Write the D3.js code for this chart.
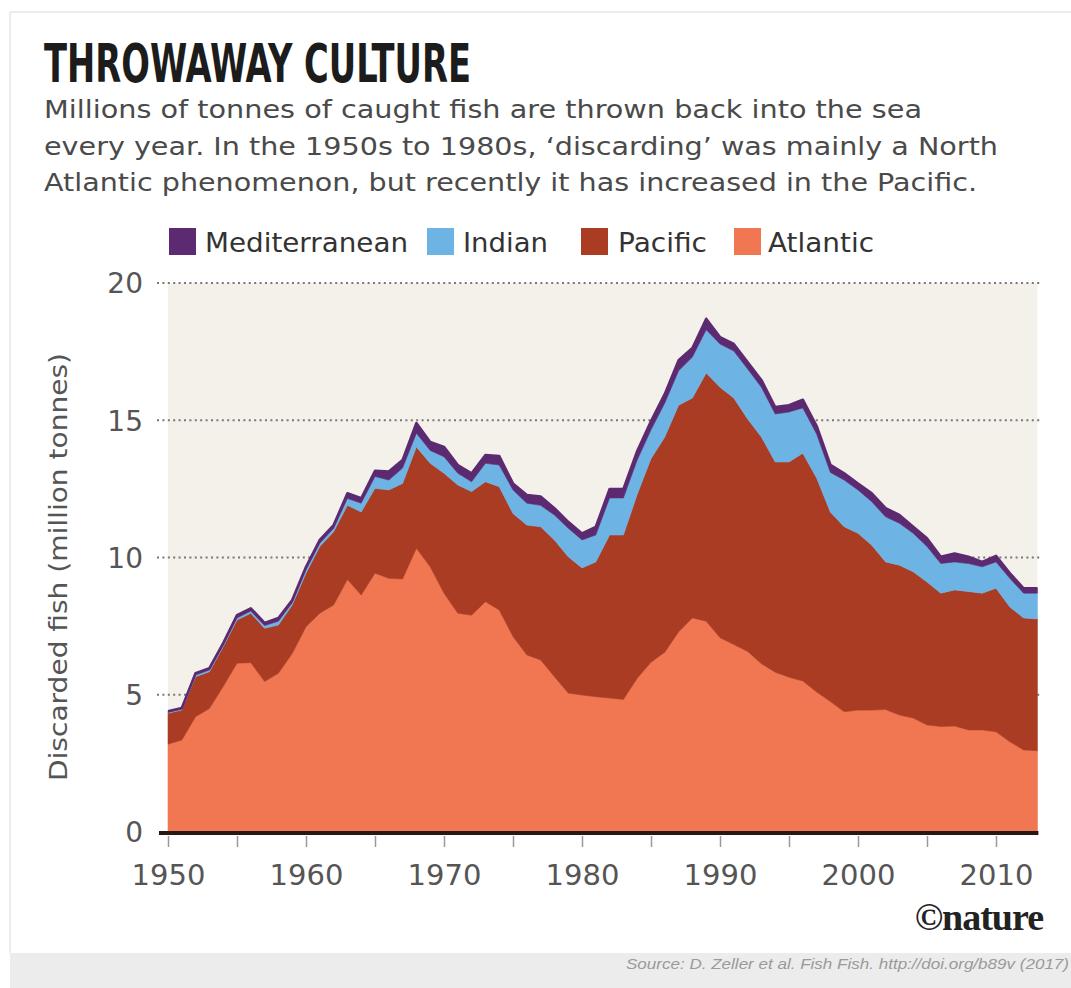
<!DOCTYPE html>
<html>
<head>
<meta charset="utf-8">
<script src="https://cdn.jsdelivr.net/npm/d3@7"></script>
<style>
  html, body { margin: 0; padding: 0; background: #ffffff; }
  svg { display: block; }
</style>
</head>
<body>
<svg id="chart" width="1071" height="988"></svg>
<script>
// ---------------- DATA ----------------
const years = [1950,1951,1952,1953,1954,1955,1956,1957,1958,1959,
  1960,1961,1962,1963,1964,1965,1966,1967,1968,1969,
  1970,1971,1972,1973,1974,1975,1976,1977,1978,1979,
  1980,1981,1982,1983,1984,1985,1986,1987,1988,1989,
  1990,1991,1992,1993,1994,1995,1996,1997,1998,1999,
  2000,2001,2002,2003,2004,2005,2006,2007,2008,2009,
  2010,2011,2012,2013];

const atlantic = [3.20,3.35,4.20,4.50,5.30,6.15,6.17,5.48,5.78,6.50,
  7.48,7.97,8.27,9.20,8.63,9.43,9.24,9.22,10.34,9.66,
  8.70,7.97,7.90,8.39,8.09,7.12,6.45,6.27,5.66,5.06,
  4.99,4.93,4.88,4.83,5.60,6.18,6.55,7.29,7.80,7.68,
  7.08,6.83,6.58,6.13,5.82,5.64,5.50,5.10,4.75,4.38,
  4.44,4.44,4.46,4.26,4.15,3.90,3.84,3.86,3.72,3.72,
  3.65,3.29,2.99,2.96];

const pacific = [1.13,1.09,1.46,1.34,1.45,1.57,1.80,1.94,1.76,1.77,
  1.95,2.43,2.67,2.70,3.03,3.09,3.22,3.48,3.69,3.77,
  4.37,4.67,4.50,4.37,4.49,4.48,4.73,4.85,4.98,4.97,
  4.63,4.91,5.94,5.99,6.70,7.42,7.84,8.26,8.01,9.04,
  9.12,8.98,8.47,8.26,7.66,7.84,8.30,7.80,6.90,6.74,
  6.44,6.01,5.38,5.46,5.33,5.21,4.86,4.96,5.04,4.98,
  5.23,4.91,4.81,4.80];

const indian = [0.03,0.04,0.06,0.06,0.05,0.08,0.08,0.10,0.14,0.08,
  0.12,0.12,0.12,0.25,0.32,0.43,0.36,0.56,0.50,0.47,
  0.60,0.43,0.36,0.67,0.79,0.86,0.80,0.78,0.91,1.04,
  1.02,0.98,1.35,1.35,1.25,1.05,1.24,1.25,1.49,1.58,
  1.58,1.71,1.82,1.81,1.75,1.82,1.65,1.60,1.45,1.70,
  1.58,1.58,1.64,1.53,1.40,1.29,1.08,1.02,1.02,0.96,
  0.96,1.04,0.90,0.94];

const mediterranean = [0.04,0.04,0.07,0.07,0.08,0.10,0.10,0.10,0.12,0.10,
  0.11,0.12,0.12,0.19,0.18,0.21,0.31,0.29,0.37,0.31,
  0.36,0.30,0.31,0.30,0.33,0.24,0.30,0.32,0.25,0.23,
  0.24,0.30,0.33,0.33,0.33,0.32,0.33,0.39,0.33,0.40,
  0.25,0.26,0.25,0.27,0.25,0.25,0.30,0.30,0.28,0.25,
  0.24,0.31,0.32,0.30,0.24,0.30,0.25,0.31,0.25,0.18,
  0.22,0.19,0.18,0.18];

const seriesNames = ["Atlantic","Pacific","Indian","Mediterranean"];
const seriesColors = ["#f07751","#a93c22","#6db4e4","#5c2a70"];
const legendOrder = ["Mediterranean","Indian","Pacific","Atlantic"];
const yTicks = [0,5,10,15,20];
const xTicks = [1950,1955,1960,1965,1970,1975,1980,1985,1990,1995,2000,2005,2010];
const xTickLabels = [1950,1960,1970,1980,1990,2000,2010];

const titleText = "THROWAWAY CULTURE";
const subtitleLines = [
  "Millions of tonnes of caught fish are thrown back into the sea",
  "every year. In the 1950s to 1980s, \u2018discarding\u2019 was mainly a North",
  "Atlantic phenomenon, but recently it has increased in the Pacific."
];
const yAxisTitle = "Discarded fish (million tonnes)";
const sourceText = "Source: D. Zeller et al. Fish Fish. http://doi.org/b89v (2017)";

// ---------------- BUILD ----------------
const table = years.map((yr, i) => ({
  year: yr,
  Atlantic: atlantic[i],
  Pacific: pacific[i],
  Indian: indian[i],
  Mediterranean: mediterranean[i]
}));
const colorOf = d3.scaleOrdinal().domain(seriesNames).range(seriesColors);

const svg = d3.select("#chart");
const FONT = "'DejaVu Sans', Verdana, sans-serif";

// card frame
svg.append("rect").attr("x", 0).attr("y", 0).attr("width", 1071).attr("height", 988).attr("fill", "#ffffff");
svg.append("line").attr("x1", 10).attr("x2", 1071).attr("y1", 12).attr("y2", 12)
  .attr("stroke", "#e6e6e6").attr("stroke-width", 1.5);
svg.append("line").attr("x1", 10).attr("x2", 10).attr("y1", 12).attr("y2", 953)
  .attr("stroke", "#e6e6e6").attr("stroke-width", 1.5);

// footer
svg.append("rect").attr("x", 10).attr("y", 953).attr("width", 1061).attr("height", 35).attr("fill", "#ececec");
svg.append("text").attr("x", 1069).attr("y", 969)
  .attr("text-anchor", "end")
  .attr("font-family", "'Liberation Sans', Arial, sans-serif")
  .attr("font-style", "italic")
  .attr("font-size", 15.5)
  .attr("fill", "#9a9a9a")
  .attr("textLength", 443).attr("lengthAdjust", "spacingAndGlyphs")
  .text(sourceText);

// title
svg.append("text").attr("x", 44).attr("y", 82)
  .attr("font-family", "'Liberation Sans Narrow', 'DejaVu Sans Condensed', sans-serif")
  .attr("font-weight", "bold")
  .attr("font-size", 54)
  .attr("fill", "#1c1c1c")
  .attr("textLength", 427).attr("lengthAdjust", "spacingAndGlyphs")
  .text(titleText);

// subtitle
const subEnds = [922, 998, 977];
const subBase = [118, 155, 191];
subtitleLines.forEach((t, i) => {
  svg.append("text").attr("x", 44).attr("y", subBase[i])
    .attr("font-family", FONT)
    .attr("font-size", 25.5)
    .attr("fill", "#4a4a4a")
    .attr("textLength", subEnds[i] - 44).attr("lengthAdjust", "spacingAndGlyphs")
    .text(t);
});

// legend
const legX = [169, 427, 581, 734];
const legTextX = [205, 463, 618, 768];
const legTextEnd = [408, 548, 707, 874];
legendOrder.forEach((name, i) => {
  svg.append("rect").attr("x", legX[i]).attr("y", 228).attr("width", 27).attr("height", 27)
    .attr("fill", colorOf(name));
  svg.append("text").attr("x", legTextX[i]).attr("y", 252)
    .attr("font-family", FONT).attr("font-size", 27).attr("fill", "#333")
    .attr("textLength", legTextEnd[i] - legTextX[i]).attr("lengthAdjust", "spacingAndGlyphs")
    .text(name);
});

// scales
const x = d3.scaleLinear().domain([1950, 2010]).range([168, 996]);
const y = d3.scaleLinear().domain([0, 20]).range([832, 283]);
const xEnd = x(years[years.length - 1]);

// panel background
svg.append("rect").attr("x", x(1950)).attr("y", y(20)).attr("width", xEnd - x(1950)).attr("height", y(0) - y(20))
  .attr("fill", "#f4f1eb");

// gridlines (dotted)
const grid = svg.append("g");
yTicks.filter(v => v > 0).forEach(v => {
  grid.append("line").attr("x1", 157).attr("x2", xEnd + 2).attr("y1", y(v)).attr("y2", y(v))
    .attr("stroke", "#777").attr("stroke-width", 2).attr("stroke-dasharray", "2,3.4");
});

// y tick labels
const yAxis = d3.axisLeft(y).tickValues(yTicks).tickSize(0).tickPadding(0).tickFormat(d3.format("d"));
const gy = svg.append("g").attr("transform", "translate(143,0)").call(yAxis);
gy.select(".domain").remove();
gy.selectAll("text").attr("font-family", FONT).attr("font-size", 28).attr("fill", "#555").attr("dy", "0.35em");

// stacked areas
const stack = d3.stack().keys(seriesNames);
const layers = stack(table);
const area = d3.area()
  .x(d => x(d.data.year))
  .y0(d => y(d[0]))
  .y1(d => y(d[1]));
svg.append("g").selectAll("path").data(layers).join("path")
  .attr("d", area)
  .attr("fill", d => colorOf(d.key))
  .attr("stroke", d => colorOf(d.key))
  .attr("stroke-width", 0.6)
  .attr("stroke-linejoin", "round");

// top outline (mediterranean edge)
const topLine = d3.line().x(d => x(d.data.year)).y(d => y(d[1]));
svg.append("path").datum(layers[layers.length - 1])
  .attr("d", topLine).attr("fill", "none")
  .attr("stroke", "#5c2a70").attr("stroke-width", 2.5).attr("stroke-linejoin", "round");

// x axis: ticks + labels
const xAxis = d3.axisBottom(x).tickValues(xTicks).tickSize(11).tickPadding(0)
  .tickFormat(d => xTickLabels.includes(d) ? d : "");
const gx = svg.append("g").attr("transform", "translate(0,836)").call(xAxis);
gx.select(".domain").remove();
gx.selectAll(".tick line").attr("stroke", "#9a9a9a").attr("stroke-width", 1.5);
gx.selectAll("text").attr("font-family", FONT).attr("font-size", 29).attr("fill", "#555")
  .attr("dy", 0).attr("y", 49);

// baseline
svg.append("line").attr("x1", 159).attr("x2", xEnd + 1).attr("y1", y(0) + 1).attr("y2", y(0) + 1)
  .attr("stroke", "#2b1712").attr("stroke-width", 4);

// y axis title
svg.append("text")
  .attr("transform", `translate(60,567) rotate(-90)`)
  .attr("text-anchor", "middle")
  .attr("dominant-baseline", "middle")
  .attr("font-family", FONT).attr("font-size", 25).attr("fill", "#555")
  .attr("textLength", 428).attr("lengthAdjust", "spacingAndGlyphs")
  .text(yAxisTitle);

// nature logo
svg.append("text").attr("x", 1043).attr("y", 930)
  .attr("text-anchor", "end")
  .attr("font-family", "'Liberation Serif', 'Times New Roman', serif")
  .attr("font-weight", "bold")
  .attr("font-size", 38)
  .attr("fill", "#222")
  .attr("letter-spacing", -1)
  .text("\u00A9nature");
</script>
</body>
</html>
